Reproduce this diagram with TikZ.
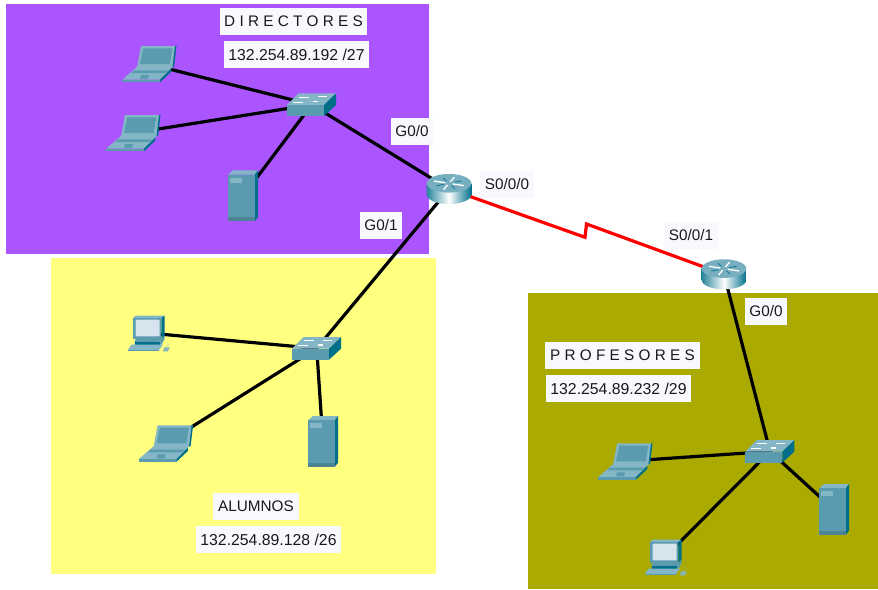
\documentclass[tikz,border=0pt]{standalone}
\usepackage{fontspec}
\setmainfont{Liberation Sans}
\definecolor{devbody}{HTML}{5A9BB0}
\definecolor{devlight}{HTML}{84B6C6}
\definecolor{devdark}{HTML}{006F8A}
\definecolor{devscreen}{HTML}{D6E5ED}
\definecolor{labelbg}{HTML}{F8F8FF}
\tikzset{
    dev/.style={inner sep=0pt,minimum size=0pt},
    lan/.style={line width=3.2pt,black},
    wan/.style={line width=3.2pt,red,line join=miter},
    tag/.style={fill=labelbg,inner sep=0pt,minimum height=27pt,font=\fontsize{15.3}{18}\selectfont,text=black!90},
    nettag/.style={tag,minimum width=145pt,font=\fontsize{15.8}{18}\selectfont},
    laptop/.pic={
        \fill[devlight] (-8,-18)--(27,-18)--(24,3.5)--(-12,3.5)--cycle;
        \fill[devdark] (26,-18)--(27.5,-18)--(25,3)--(23.5,3)--cycle;
        \fill[devbody] (-5.7,-15.7)--(23.3,-15.7)--(20.7,0)--(-9,0)--cycle;
        \fill[devlight] (-12,3)--(22.3,3)--(22.3,4.5)--(11,15.7)--(-26.7,15.7)--cycle;
        \fill[devbody] (-15,6.3)--(20,6.3)--(16.7,9)--(-17.7,9)--cycle;
        \fill[devbody] (-8,11)--(0,11)--(-1,15)--(-9,15)--cycle;
        \fill[devbody] (-26.7,15.7) rectangle (11,18.3);
        \fill[devdark] (11,15.7)--(22.3,4.5)--(22.3,7.7)--(11,18.3)--cycle;
    },
    desktop/.pic={
        \fill[devlight] (-15,-15)--(-12.3,-17.3)--(16.7,-17.3)--(13.3,-15)--cycle;
        \fill[devdark] (13.3,-15)--(16.7,-17.3)--(16.7,2.7)--(13.3,6)--cycle;
        \fill[devbody] (-15,-15) rectangle (13.3,6);
        \fill[devscreen,rounded corners=1pt] (-12.3,-13.3) rectangle (11.7,3.3);
        \fill[devbody] (-12,6)--(13.3,6)--(16.7,3)--(16.7,6)--(13.3,11.7)--(-13.3,11.7)--(-13.3,8)--cycle;
        \fill[devdark] (-13.3,9) rectangle (12,11.7);
        \fill[devlight] (-16.7,11.7)--(15,11.7)--(11,17)--(-20,17)--cycle;
        \fill[devbody] (-20,17) rectangle (11,18.3);
        \fill[devlight] (16,14.3)--(21.7,14.3)--(20,18.3)--(15,18.3)--cycle;
        \draw[devlight,densely dotted,line width=.5pt] (18,14)--(21,11)--(17,9.5);
    },
    tower/.pic={
        \fill[devlight] (-15,-21.3)--(-10,-25.7)--(15,-25.7)--(11.7,-21.3)--cycle;
        \fill[devdark] (11.7,-21.3)--(15,-25.7)--(15,21)--(11.7,25.3)--cycle;
        \fill[devbody] (-15,-21.3) rectangle (11.7,25.3);
        \fill[devlight] (-13.3,-18.3) rectangle (-1,-13.3);
        \fill[devbody!85!black] (-15,21) rectangle (11.7,25.3);
    },
    swbox/.pic={
        \fill[devlight] (-24.7,.3)--(-13.3,-11.3)--(24.3,-11.3)--(12.3,.3)--cycle;
        \fill[devdark] (12.3,.3)--(24.3,-11.3)--(24.3,.3)--(12.3,11.3)--cycle;
        \fill[devbody] (-24.7,.3) rectangle (12.3,11.3);
        \fill[white] (-13,-8)--(-3,-8)--(-3,-7.2)--(-13,-7.2)--cycle;
        \fill[white] (6,-8.6)--(15,-8.6)--(15,-7.6)--(6,-7.6)--cycle;
        \fill[white] (-19,-3)--(-9,-3)--(-9,-2.2)--(-19,-2.2)--cycle;
        \fill[white] (1,-4)--(6,-4)--(6,-2.6)--(1,-2.6)--cycle;
    },
    router/.pic={
        \shade[left color=devdark!85,right color=devdark,middle color=white] (-22.3,-5.7)--(-22.3,5.7) arc[start angle=180,end angle=0,x radius=22.3,y radius=9.3]--(22.3,-5.7)--cycle;
        \fill[devlight!90!devdark] (0,-5.7) ellipse[x radius=22.3,y radius=9.3];
        \foreach \a in {20,110,200,290}
            \draw[white,line width=1.3pt,yscale=.42] (0,-13.5) ++(\a:4)--++(\a:12);
        \foreach \a in {65,155,245,335}
            \draw[devdark,line width=.7pt,yscale=.42] (0,-13.5) ++(\a:6)--++(\a:8);
    },
}
\begin{document}
\begin{tikzpicture}[x=1pt,y=-1pt]
    \useasboundingbox (0,0) rectangle (878,589);

    \fill[white] (0,0) rectangle (878,589);
    \fill[fill={rgb,255:red,170;green,85;blue,255}] (6,4) rectangle (429,254);
    \fill[fill={rgb,255:red,255;green,255;blue,128}] (51,258) rectangle (436,574);
    \fill[fill={rgb,255:red,170;green,170;blue,0}] (528,293) rectangle (878,589);

    \node[dev] (lapA) at (149,64) {};
    \node[dev] (lapB) at (133,133) {};
    \node[dev] (srvA) at (243,196) {};
    \node[dev] (swA) at (311.7,104.7) {};
    \node[dev] (rtrA) at (449,189) {};
    \node[dev] (pcA) at (148,333) {};
    \node[dev] (lapC) at (165.6,443.3) {};
    \node[dev] (srvB) at (323,441.7) {};
    \node[dev] (swB) at (316.7,348.4) {};
    \node[dev] (rtrB) at (724,274.3) {};
    \node[dev] (lapD) at (625,461.3) {};
    \node[dev] (pcB) at (665,557) {};
    \node[dev] (srvC) at (834,509.7) {};
    \node[dev] (swC) at (770,451.4) {};
    \coordinate (zigA) at (585,237.3);
    \coordinate (zigB) at (586.5,224);

    \foreach \a/\b in {lapA/swA,lapB/swA,srvA/swA,swA/rtrA,rtrA/swB,pcA/swB,lapC/swB,srvB/swB,rtrB/swC,lapD/swC,pcB/swC,srvC/swC}
        \draw[lan] (\a)--(\b);
    \draw[wan] (rtrA)--(zigA)--(zigB)--(rtrB);

    \foreach \n in {lapA,lapB,lapC,lapD}
        \pic at (\n) {laptop};
    \foreach \n in {pcA,pcB}
        \pic at (\n) {desktop};
    \foreach \n in {srvA,srvB,srvC}
        \pic at (\n) {tower};
    \foreach \n in {swA,swB,swC}
        \pic at (\n) {swbox};
    \foreach \n in {rtrA,rtrB}
        \pic at (\n) {router};

    \node[tag,minimum width=147pt] (dirName) at (293.5,21.5) {D I R E C T O R E S};
    \node[nettag] (dirNet) at (296.5,54.5) {132.254.89.192 /27};
    \node[tag,minimum width=42pt] (ifAg) at (412,131.5) {G0/0};
    \node[tag,minimum width=42pt] (ifAh) at (381,225) {G0/1};
    \node[tag,minimum width=54pt] (ifAs) at (507,184) {S0/0/0};
    \node[tag,minimum width=54pt] (ifBs) at (691,235) {S0/0/1};
    \node[tag,minimum width=42pt] (ifBg) at (766,311.5) {G0/0};
    \node[tag,minimum width=155pt] (profName) at (622.5,355.5) {P R O F E S O R E S};
    \node[nettag] (profNet) at (618.5,388.5) {132.254.89.232 /29};
    \node[tag,minimum width=86pt] (aluName) at (256,506.5) {ALUMNOS};
    \node[nettag] (aluNet) at (268.5,539.5) {132.254.89.128 /26};
\end{tikzpicture}
\end{document}
